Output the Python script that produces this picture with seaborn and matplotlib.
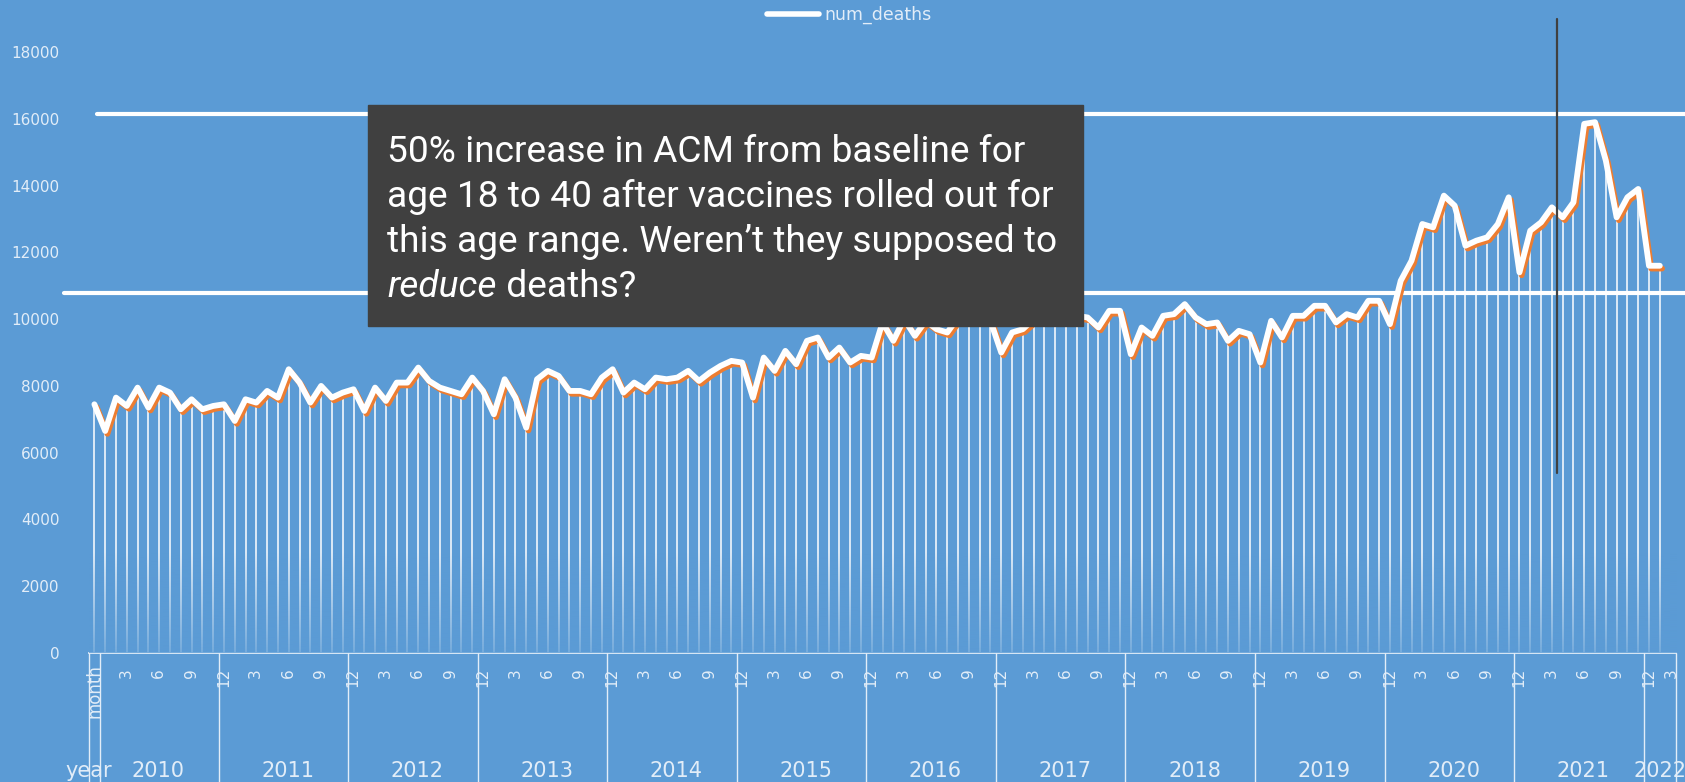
import numpy as np
import pandas as pd
import matplotlib
matplotlib.use("Agg")
import matplotlib.pyplot as plt
import matplotlib.patheffects as pe
from matplotlib.lines import Line2D
from matplotlib.patches import Rectangle
import seaborn as sns

BG = '#5B9BD5'
LIGHT = '#E2EDF8'
ORANGE = '#ED7D31'
BOX = '#404040'

# monthly deaths, Jan 2010 .. Feb 2022
years = list(range(2010, 2023))
months_in_year = [12] * 12 + [3]
month_ticks = [3, 6, 9, 12]
num_deaths = [
    7450, 6650, 7650, 7400, 7950, 7350, 7950, 7800, 7300, 7600, 7300, 7400,   # 2010
    7450, 6950, 7600, 7500, 7850, 7650, 8500, 8100, 7500, 8000, 7650, 7800,   # 2011
    7900, 7250, 7950, 7550, 8100, 8100, 8550, 8150, 7950, 7850, 7750, 8250,   # 2012
    7850, 7150, 8200, 7650, 6750, 8200, 8450, 8300, 7850, 7850, 7750, 8250,   # 2013
    8500, 7800, 8100, 7900, 8250, 8200, 8250, 8450, 8150, 8400, 8600, 8750,   # 2014
    8700, 7650, 8850, 8450, 9050, 8650, 9350, 9450, 8850, 9150, 8700, 8900,   # 2015
    8850, 9900, 9350, 10000, 9500, 9950, 9700, 9600, 10050, 10200, 10100, 9950,  # 2016
    9000, 9600, 9700, 10000, 10150, 9950, 10250, 10100, 10050, 9750, 10250, 10250,  # 2017
    8950, 9750, 9500, 10100, 10150, 10450, 10050, 9850, 9900, 9350, 9650, 9550,  # 2018
    8700, 9950, 9450, 10100, 10100, 10400, 10400, 9900, 10150, 10050, 10550, 10550,  # 2019
    9850, 11150, 11750, 12850, 12750, 13700, 13400, 12200, 12350, 12450, 12850, 13650,  # 2020
    11400, 12650, 12900, 13350, 13050, 13500, 15850, 15900, 14750, 13050, 13650, 13900,  # 2021
    11600, 11600,                                                              # 2022
]
baseline = 10780
raised = 16150
rollout_month = 135  # Apr 2021

annotation_lines = [
    "50% increase in ACM from baseline for",
    "age 18 to 40 after vaccines rolled out for",
    "this age range. Weren\u2019t they supposed to",
]

sns.set_style('white')
plt.rcParams['font.family'] = ['DejaVu Sans']

df = pd.DataFrame({'x': np.arange(len(num_deaths)) + 0.5,
                   'num_deaths': num_deaths})
n_cats = sum(months_in_year)

W, H = 1685, 782
fig = plt.figure(figsize=(W / 100, H / 100), dpi=100)
fig.patch.set_facecolor(BG)
ax = fig.add_axes([89 / W, 129 / H, 1587 / W, 651 / H])
ax.set_facecolor(BG)

# drop lines, fading out towards the axis
ax.vlines(df['x'], 0, df['num_deaths'], color='white', lw=1.1, zorder=2)
grad = np.zeros((256, 1, 4))
grad[..., :3] = matplotlib.colors.to_rgb(BG)
grad[:, 0, 3] = np.linspace(0.8, 0.0, 256)
ax.imshow(grad, extent=[0, n_cats, 0, 3000], origin='lower', aspect='auto',
          interpolation='bilinear', zorder=3)

sns.lineplot(data=df, x='x', y='num_deaths', ax=ax, color='white', lw=4.2,
             zorder=5, legend=False,
             path_effects=[pe.SimpleLineShadow(offset=(1.6, -2.0),
                                               shadow_color=ORANGE, alpha=1),
                           pe.Normal()])

ytr = ax.get_yaxis_transform()
ax.plot([-0.0155, 1.01], [baseline, baseline], transform=ytr, color='white',
        lw=3, clip_on=False, zorder=4)
ax.plot([0.005, 1.01], [raised, raised], transform=ytr, color='white',
        lw=3, clip_on=False, zorder=4)
ax.plot([rollout_month + 1, rollout_month + 1], [5400, 19000], color=BOX,
        lw=1.6, zorder=6)

ax.set_xlim(0, n_cats)
ax.set_ylim(0, 19500)
ax.set_xlabel('')
ax.set_ylabel('')
ax.set_xticks([])
ax.set_yticks(range(0, 18001, 2000))
ax.tick_params(axis='y', length=0, pad=21, labelcolor=LIGHT, labelsize=11)
for s in ['top', 'right', 'left']:
    ax.spines[s].set_visible(False)
ax.spines['bottom'].set_color(LIGHT)
ax.spines['bottom'].set_linewidth(1.3)

# two level category axis: months and years
xtr = ax.get_xaxis_transform()
starts = np.cumsum([0] + months_in_year)
for k, year in enumerate(years):
    s = starts[k]
    for m in month_ticks:
        if m <= months_in_year[k]:
            xm = min(s + m + 0.45, n_cats - 0.4)
            ax.text(xm, -0.023, str(m), transform=xtr, rotation=90,
                    ha='center', va='top', fontsize=11, color=LIGHT)
    xy = s + months_in_year[k] / 2 + (0.4 if months_in_year[k] == 12 else 0)
    ax.text(xy, -0.181, str(year), transform=xtr,
            ha='center', va='center', fontsize=15, color=LIGHT)
for xs in list(starts) + [1]:
    ax.plot([xs, xs], [0, -0.2], transform=xtr, color=LIGHT, lw=1,
            clip_on=False)
ax.text(0.5, -0.017, 'month', transform=xtr, rotation=90, ha='center',
        va='top', fontsize=12, color=LIGHT)
ax.text(0, -0.181, 'year', transform=xtr, ha='center', va='center',
        fontsize=15, color=LIGHT)

ax.legend(handles=[Line2D([], [], color='white', lw=4)], labels=['num_deaths'],
          loc='center', bbox_to_anchor=(0.479, 0.98), frameon=False,
          labelcolor=LIGHT, fontsize=12.5, handlelength=3, handletextpad=0.3)

# annotation box
fig.add_artist(Rectangle((367.5 / W, 1 - 325.6 / H), (1083 - 367.5) / W,
                         (325.6 - 105) / H, transform=fig.transFigure,
                         color=BOX, zorder=10))
tx = 387 / W
fs = 26.7
for j, line in enumerate(annotation_lines):
    fig.text(tx, 1 - (161.7 + 45 * j) / H, line, fontsize=fs, color='white',
             family='Roboto', va='baseline', zorder=11)
y4 = 1 - (161.7 + 45 * 3) / H
t4 = fig.text(tx, y4, 'reduce', fontsize=fs, color='white', family='Roboto',
              style='italic', va='baseline', zorder=11)
renderer = fig.canvas.get_renderer()
bb = t4.get_window_extent(renderer)
fig.text(bb.x1 / fig.bbox.width, y4, ' deaths?', fontsize=fs, color='white',
         family='Roboto', va='baseline', zorder=11)

fig.savefig('out.png', dpi=100, facecolor=BG)
